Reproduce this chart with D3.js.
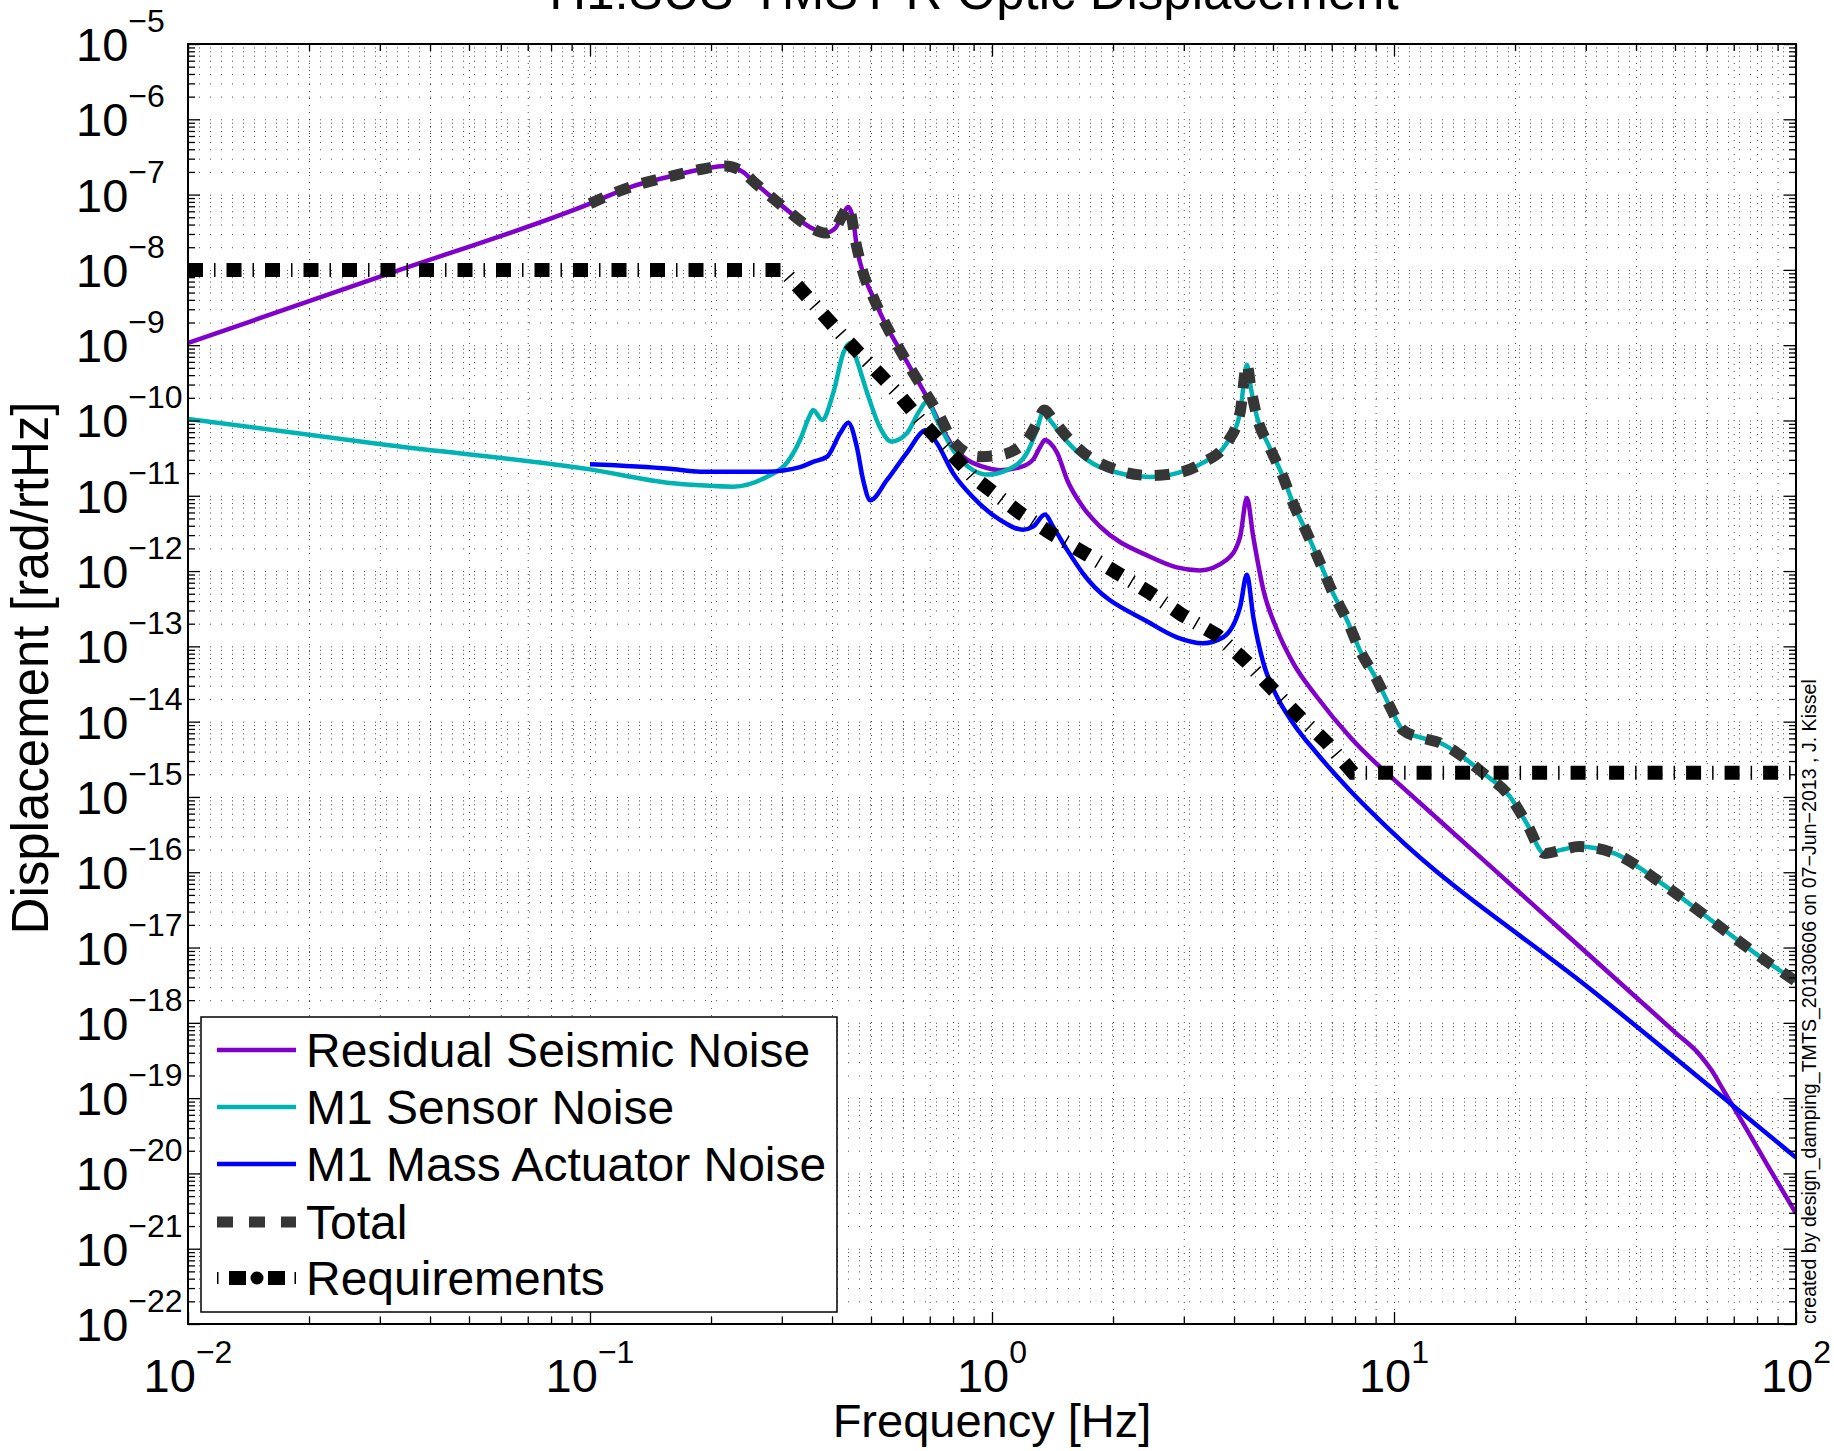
<!DOCTYPE html>
<html><head><meta charset="utf-8">
<script src="https://cdn.jsdelivr.net/npm/d3@7"></script>
<style>
body{margin:0;background:#fff}
svg{display:block}
text{font-family:"Liberation Sans",Arial,Helvetica,sans-serif;fill:#000}
</style></head>
<body><svg id="chart" width="1834" height="1451"></svg>
<script>
// ---------------- data ----------------
const titleText = "H1:SUS-TMSY R Optic Displacement";
const xDecades = [0.01, 0.1, 1, 10, 100];
const xDecadeExp = ["−2", "−1", "0", "1", "2"];
const yDecadeExp = [-5,-6,-7,-8,-9,-10,-11,-12,-13,-14,-15,-16,-17,-18,-19,-20,-21,-22];
const legendLabels = ["Residual Seismic Noise","M1 Sensor Noise","M1 Mass Actuator Noise","Total","Requirements"];

const seismicFreq = [0.01,0.0316,0.1,0.126,0.158,0.191,0.217,0.240,0.258,0.302,0.352,0.385,0.407,0.427,0.439,0.452,0.461,0.478,0.506,0.548,0.590,0.637,0.689,0.743,0.800,0.867,0.973,1.047,1.175,1.265,1.318,1.355,1.396,1.452,1.538,1.683,1.858,2.472,2.884,3.289,3.837,4.140,4.305,4.467,4.732,5.117,5.610,6.427,7.762,9.397,10,15.85,25.12,39.81,50.12,57.5,61.66,66.07,74.13,85.11,100];
const seismicVal  = [1.07e-9,8.9e-9,7.59e-8,1.26e-7,1.74e-7,2.19e-7,2.40e-7,2.0e-7,1.41e-7,6.92e-8,3.72e-8,3.09e-8,3.55e-8,5.62e-8,6.84e-8,4.47e-8,2.0e-8,9.12e-9,4.37e-9,1.74e-9,8.71e-10,4.27e-10,2.04e-10,8.91e-11,4.47e-11,3.02e-11,2.34e-11,2.19e-11,2.40e-11,3.02e-11,4.47e-11,5.50e-11,5.01e-11,3.72e-11,1.62e-11,7.08e-12,3.89e-12,1.55e-12,1.12e-12,1.02e-12,1.41e-12,2.82e-12,9.33e-12,2.82e-12,5.62e-13,1.66e-13,6.03e-14,2.14e-14,6.31e-15,2.29e-15,1.70e-15,1.86e-16,2.04e-17,2.24e-18,7.41e-19,3.80e-19,2.34e-19,1.26e-19,4.47e-20,1.26e-20,2.95e-21];

const sensorFreq = [0.01,0.0316,0.1,0.158,0.188,0.227,0.275,0.309,0.333,0.351,0.359,0.378,0.403,0.427,0.444,0.461,0.489,0.526,0.562,0.614,0.662,0.689,0.729,0.800,0.897,0.973,1.089,1.222,1.288,1.340,1.396,1.476,1.683,1.858,2.472,2.884,3.350,3.837,4.140,4.305,4.416,4.560,4.898,5.297,5.610,6.067,6.546,7.047,7.638,8.222,9.078,9.772,10.52,11.80,13.00,14.59,16.63,19.45,21.38,23.66,26.30,28.84,35.32,46.13,60.26,78.89,100];
const sensorVal  = [1.05e-10,4.68e-11,2.24e-11,1.48e-11,1.38e-11,1.32e-11,1.78e-11,2.75e-11,5.50e-11,1.12e-10,1.38e-10,1.02e-10,2.34e-10,7.94e-10,1.07e-9,6.31e-10,2.34e-10,8.13e-11,5.25e-11,6.76e-11,1.38e-10,1.78e-10,1.02e-10,4.07e-11,2.19e-11,1.91e-11,2.19e-11,3.72e-11,7.08e-11,1.26e-10,1.0e-10,6.76e-11,3.31e-11,2.40e-11,1.78e-11,2.0e-11,2.75e-11,5.01e-11,1.26e-10,5.50e-10,2.51e-10,1.12e-10,4.47e-11,1.78e-11,7.94e-12,3.24e-12,1.29e-12,5.13e-13,2.24e-13,8.91e-14,3.55e-14,1.58e-14,7.76e-15,6.03e-15,5.25e-15,3.63e-15,2.09e-15,1.0e-15,4.47e-16,1.78e-16,2.0e-16,2.19e-16,1.78e-16,7.24e-17,2.51e-17,8.51e-18,3.55e-18];

const actuatorFreq = [0.1,0.158,0.188,0.275,0.333,0.359,0.389,0.419,0.439,0.461,0.478,0.498,0.548,0.614,0.685,0.729,0.800,0.897,1.047,1.194,1.265,1.355,1.419,1.538,1.683,2.472,2.884,3.350,3.758,4.140,4.305,4.467,4.732,5.117,5.610,6.427,7.762,9.772,31.62,100];
const actuatorVal  = [2.63e-11,2.29e-11,2.09e-11,2.09e-11,2.40e-11,2.82e-11,3.31e-11,6.76e-11,9.33e-11,4.47e-11,1.62e-11,8.71e-12,1.62e-11,3.72e-11,7.41e-11,5.01e-11,2.0e-11,9.55e-12,4.79e-12,3.55e-12,3.89e-12,5.62e-12,3.89e-12,1.91e-12,9.33e-13,2.04e-13,1.32e-13,1.10e-13,1.32e-13,3.31e-13,8.91e-13,2.45e-13,6.03e-14,2.14e-14,9.55e-15,3.80e-15,1.23e-15,3.63e-16,2.51e-18,1.62e-20];

const totalFreq = [0.1,0.126,0.158,0.191,0.217,0.240,0.258,0.302,0.352,0.385,0.407,0.427,0.439,0.461,0.478,0.506,0.548,0.590,0.637,0.689,0.743,0.800,0.933,1.047,1.222,1.303,1.349,1.413,1.538,1.786,2.472,2.884,3.350,3.837,4.140,4.305,4.416,4.560,4.898,5.297,5.610,6.067,6.546,7.047,7.638,8.222,9.078,9.772,10.52,11.80,13.00,14.59,16.63,19.45,21.38,23.66,26.30,28.84,35.32,46.13,60.26,78.89,100];
const totalVal  = [7.59e-8,1.26e-7,1.74e-7,2.19e-7,2.40e-7,2.0e-7,1.41e-7,6.92e-8,3.72e-8,3.09e-8,3.55e-8,5.62e-8,6.84e-8,2.0e-8,9.12e-9,4.37e-9,1.74e-9,8.71e-10,4.27e-10,2.19e-10,1.12e-10,5.25e-11,3.31e-11,3.47e-11,5.50e-11,1.0e-10,1.38e-10,1.05e-10,6.03e-11,3.02e-11,1.86e-11,2.0e-11,2.75e-11,5.01e-11,1.26e-10,5.50e-10,2.51e-10,1.12e-10,4.47e-11,1.78e-11,7.94e-12,3.24e-12,1.29e-12,5.13e-13,2.24e-13,8.91e-14,3.55e-14,1.58e-14,7.76e-15,6.03e-15,5.25e-15,3.63e-15,2.09e-15,1.0e-15,4.47e-16,1.78e-16,2.0e-16,2.19e-16,1.78e-16,7.24e-17,2.51e-17,8.51e-18,3.55e-18];

const reqFreq = [0.01,0.302,0.427,0.581,0.662,0.897,1.175,1.393,1.683,2.472,2.965,3.631,4.305,5.012,5.834,6.808,7.907,100];
const reqVal  = [1e-8,1e-8,1.29e-9,2.34e-10,1.02e-10,1.78e-11,5.89e-12,3.24e-12,1.78e-12,5.13e-13,2.63e-13,1.41e-13,6.17e-14,2.63e-14,1.15e-14,5.25e-15,2.09e-15,2.09e-15];

const seriesColors = {seismic:"#8000CC", sensor:"#00B3B3", actuator:"#0000FF", total:"#363636", req:"#000000"};
const footnote = "created by design_damping_TMTS_20130606 on 07−Jun−2013 , J. Kissel";

// ---------------- layout ----------------
const L=188, R=1796, T=44, B=1324;
const FS=47, SUP=32;
const svg = d3.select("#chart");
const x = d3.scaleLog().domain([0.01,100]).range([L,R]);
const y = d3.scaleLog().domain([1e-22,1e-5]).range([B,T]);

// tick values
const xMinor=[], xMajor=xDecades.slice();
for(let d=-2; d<2; d++) for(let k=2;k<=9;k++) xMinor.push(k*Math.pow(10,d));
const yMajor=[], yMinor=[];
for(let e=-22;e<=-5;e++){ yMajor.push(Math.pow(10,e)); if(e<-5) for(let k=2;k<=9;k++) yMinor.push(k*Math.pow(10,e)); }

// grid (dotted), via axes
const gridX = svg.append("g").attr("transform",`translate(0,${B})`)
  .call(d3.axisBottom(x).tickValues(xMajor.concat(xMinor)).tickSize(-(B-T)).tickSizeOuter(0).tickFormat(""));
const gridY = svg.append("g").attr("transform",`translate(${L},0)`)
  .call(d3.axisLeft(y).tickValues(yMajor.concat(yMinor)).tickSize(-(R-L)).tickSizeOuter(0).tickFormat(""));
gridX.select(".domain").remove();
gridY.select(".domain").remove();
gridX.selectAll(".tick line").attr("stroke","#000").attr("stroke-width",1).attr("stroke-dasharray","1,6").attr("opacity",0.7);
gridY.selectAll(".tick line").attr("stroke","#000").attr("stroke-width",1).attr("stroke-dasharray","1,10").attr("opacity",0.7);

// clip
svg.append("clipPath").attr("id","clip").append("rect").attr("x",L).attr("y",T).attr("width",R-L).attr("height",B-T);
const plot = svg.append("g").attr("clip-path","url(#clip)");
const line = d3.line().x(d=>x(d[0])).y(d=>y(d[1])).curve(d3.curveMonotoneX);

plot.append("path").datum(d3.zip(seismicFreq,seismicVal)).attr("d",line)
  .attr("fill","none").attr("stroke",seriesColors.seismic).attr("stroke-width",4.5).attr("stroke-linejoin","round");
plot.append("path").datum(d3.zip(sensorFreq,sensorVal)).attr("d",line)
  .attr("fill","none").attr("stroke",seriesColors.sensor).attr("stroke-width",4.5).attr("stroke-linejoin","round");
plot.append("path").datum(d3.zip(actuatorFreq,actuatorVal)).attr("d",line)
  .attr("fill","none").attr("stroke",seriesColors.actuator).attr("stroke-width",4.5).attr("stroke-linejoin","round");
plot.append("path").datum(d3.zip(totalFreq,totalVal)).attr("d",line)
  .attr("fill","none").attr("stroke",seriesColors.total).attr("stroke-width",11).attr("stroke-dasharray","15,13");
const lineLin = d3.line().x(d=>x(d[0])).y(d=>y(d[1]));
plot.append("path").datum(d3.zip(reqFreq,reqVal)).attr("d",lineLin)
  .attr("fill","none").attr("stroke",seriesColors.req).attr("stroke-width",14).attr("stroke-dasharray","15,11,1.5,11");

// axes ticks (inside, all four sides)
function tickAxis(axisGen, transform, vals, size){
  const g = svg.append("g").attr("transform",transform)
    .call(axisGen.tickValues(vals).tickSize(-size).tickSizeOuter(0).tickFormat(""));
  g.select(".domain").remove();
  g.selectAll(".tick line").attr("stroke","#000").attr("stroke-width",1.3);
}
tickAxis(d3.axisBottom(x),`translate(0,${B})`,xMajor,12);
tickAxis(d3.axisBottom(x),`translate(0,${B})`,xMinor,7);
tickAxis(d3.axisTop(x),`translate(0,${T})`,xMajor,12);
tickAxis(d3.axisTop(x),`translate(0,${T})`,xMinor,7);
tickAxis(d3.axisLeft(y),`translate(${L},0)`,yMajor,12);
tickAxis(d3.axisLeft(y),`translate(${L},0)`,yMinor,7);
tickAxis(d3.axisRight(y),`translate(${R},0)`,yMajor,12);
tickAxis(d3.axisRight(y),`translate(${R},0)`,yMinor,7);
svg.append("rect").attr("x",L).attr("y",T).attr("width",R-L).attr("height",B-T)
  .attr("fill","none").attr("stroke","#000").attr("stroke-width",2);

// tick labels
xDecades.forEach((v,i)=>{
  const t = svg.append("text").attr("x",x(v)).attr("y",1392).attr("text-anchor","middle").attr("font-size",FS);
  t.append("tspan").text("10");
  t.append("tspan").attr("dy",-29).attr("font-size",SUP).text(xDecadeExp[i]);
});
yDecadeExp.forEach(e=>{
  const t = svg.append("text").attr("x",76).attr("y",y(Math.pow(10,e))+17).attr("font-size",FS);
  t.append("tspan").text("10");
  t.append("tspan").attr("dy",-29).attr("font-size",SUP).text(String(e).replace("-","−"));
});

// axis titles
svg.append("text").attr("x",(L+R)/2).attr("y",1437).attr("text-anchor","middle").attr("font-size",FS).text("Frequency [Hz]");
svg.append("text").attr("transform",`translate(48,668) rotate(-90)`).attr("text-anchor","middle").attr("font-size",51).text("Displacement [rad/rtHz]");
svg.append("text").attr("x",974).attr("y",9).attr("text-anchor","middle").attr("font-size",51).text(titleText);
svg.append("text").attr("transform",`translate(1816,${B}) rotate(-90)`).attr("text-anchor","start").attr("font-size",19.6).text(footnote);

// legend
const lg = svg.append("g");
lg.append("rect").attr("x",201).attr("y",1017).attr("width",636).attr("height",295).attr("fill","#fff").attr("stroke","#000").attr("stroke-width",1.5);
const ly = [1050,1107,1164,1222,1278];
const lstyles = [
  {c:seriesColors.seismic,w:4.5,d:null},
  {c:seriesColors.sensor,w:4.5,d:null},
  {c:seriesColors.actuator,w:4.5,d:null},
  {c:seriesColors.total,w:11,d:"16,16"}
];
lstyles.forEach((s,i)=>{
  const p = lg.append("line").attr("x1",217).attr("x2",296).attr("y1",ly[i]).attr("y2",ly[i]).attr("stroke",s.c).attr("stroke-width",s.w);
  if(s.d) p.attr("stroke-dasharray",s.d);
});
// requirements legend sample
lg.append("rect").attr("x",217).attr("y",ly[4]-6).attr("width",1.5).attr("height",12).attr("fill","#000");
lg.append("rect").attr("x",229).attr("y",ly[4]-7).attr("width",17).attr("height",14).attr("fill","#000");
lg.append("circle").attr("cx",257).attr("cy",ly[4]).attr("r",6.5).attr("fill","#000");
lg.append("rect").attr("x",268).attr("y",ly[4]-7).attr("width",17).attr("height",14).attr("fill","#000");
lg.append("rect").attr("x",294.5).attr("y",ly[4]-6).attr("width",1.5).attr("height",12).attr("fill","#000");
legendLabels.forEach((s,i)=>{
  lg.append("text").attr("x",306).attr("y",ly[i]+17).attr("font-size",48).text(s);
});
</script></body></html>
